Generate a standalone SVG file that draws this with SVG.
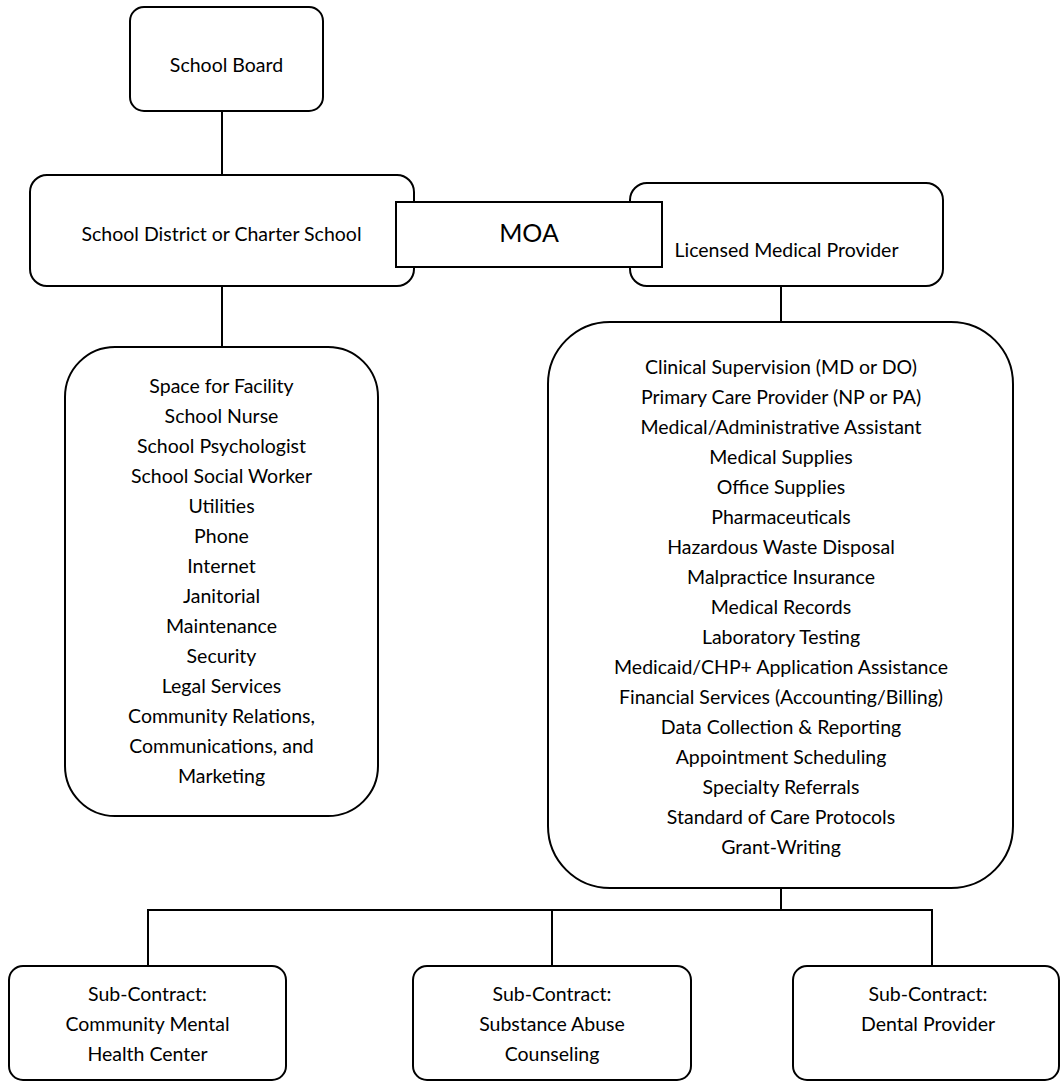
<svg xmlns="http://www.w3.org/2000/svg" width="1062" height="1082" viewBox="0 0 1062 1082">
<style>
.box{fill:#fff;stroke:#000;stroke-width:2}
.conn line{stroke:#000;stroke-width:2}
text{font-family:Lato,"Open Sans","Liberation Sans",sans-serif;font-size:19.5px;fill:#000;text-anchor:middle}
.big{font-size:25px}
</style>
<rect width="1062" height="1082" fill="#fff"/>
<g id="connectors" class="conn">
<line x1="222" y1="111" x2="222" y2="175"/>
<line x1="222" y1="286" x2="222" y2="347"/>
<line x1="781" y1="286" x2="781" y2="322"/>
<line x1="781" y1="888" x2="781" y2="910"/>
<line x1="147" y1="910" x2="933" y2="910"/>
<line x1="148" y1="909" x2="148" y2="966"/>
<line x1="552" y1="909" x2="552" y2="966"/>
<line x1="932" y1="909" x2="932" y2="966"/>
</g>
<g id="school-board">
<rect class="box" x="130" y="7" width="193" height="104" rx="14"/>
<text x="226.5" y="72">School Board</text>
</g>
<g id="school-district">
<rect class="box" x="30" y="175" width="384" height="111" rx="17"/>
<text x="221.5" y="241">School District or Charter School</text>
</g>
<g id="licensed-provider">
<rect class="box" x="630" y="183" width="313" height="103" rx="17"/>
<text x="786.5" y="257">Licensed Medical Provider</text>
</g>
<g id="moa">
<rect class="box" x="396" y="202" width="266" height="65"/>
<text class="big" x="529" y="242">MOA</text>
</g>
<g id="district-services">
<rect class="box" x="65" y="347" width="313" height="469" rx="50"/>
<text x="221.5" y="393">Space for Facility</text>
<text x="221.5" y="423">School Nurse</text>
<text x="221.5" y="453">School Psychologist</text>
<text x="221.5" y="483">School Social Worker</text>
<text x="221.5" y="513">Utilities</text>
<text x="221.5" y="543">Phone</text>
<text x="221.5" y="573">Internet</text>
<text x="221.5" y="603">Janitorial</text>
<text x="221.5" y="633">Maintenance</text>
<text x="221.5" y="663">Security</text>
<text x="221.5" y="693">Legal Services</text>
<text x="221.5" y="723">Community Relations,</text>
<text x="221.5" y="753">Communications, and</text>
<text x="221.5" y="783">Marketing</text>
</g>
<g id="provider-services">
<rect class="box" x="548" y="322" width="465" height="566" rx="62"/>
<text x="781" y="374">Clinical Supervision (MD or DO)</text>
<text x="781" y="404">Primary Care Provider (NP or PA)</text>
<text x="781" y="434">Medical/Administrative Assistant</text>
<text x="781" y="464">Medical Supplies</text>
<text x="781" y="494">Office Supplies</text>
<text x="781" y="524">Pharmaceuticals</text>
<text x="781" y="554">Hazardous Waste Disposal</text>
<text x="781" y="584">Malpractice Insurance</text>
<text x="781" y="614">Medical Records</text>
<text x="781" y="644">Laboratory Testing</text>
<text x="781" y="674">Medicaid/CHP+ Application Assistance</text>
<text x="781" y="704">Financial Services (Accounting/Billing)</text>
<text x="781" y="734">Data Collection &amp; Reporting</text>
<text x="781" y="764">Appointment Scheduling</text>
<text x="781" y="794">Specialty Referrals</text>
<text x="781" y="824">Standard of Care Protocols</text>
<text x="781" y="854">Grant-Writing</text>
</g>
<g id="sub-mental-health">
<rect class="box" x="9" y="966" width="277" height="114" rx="14"/>
<text x="147.5" y="1001">Sub-Contract:</text>
<text x="147.5" y="1031">Community Mental</text>
<text x="147.5" y="1061">Health Center</text>
</g>
<g id="sub-substance-abuse">
<rect class="box" x="413" y="966" width="278" height="114" rx="14"/>
<text x="552" y="1001">Sub-Contract:</text>
<text x="552" y="1031">Substance Abuse</text>
<text x="552" y="1061">Counseling</text>
</g>
<g id="sub-dental">
<rect class="box" x="793" y="966" width="266" height="114" rx="14"/>
<text x="928" y="1001">Sub-Contract:</text>
<text x="928" y="1031">Dental Provider</text>
</g>
</svg>
